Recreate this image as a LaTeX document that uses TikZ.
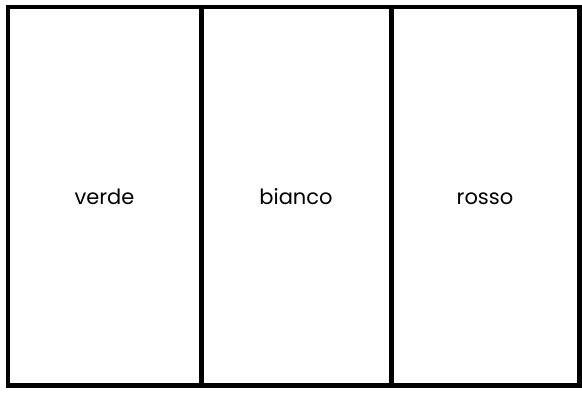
\documentclass[tikz,border=0pt]{standalone}
\usepackage{fontspec}
\setmainfont{Poppins}
\begin{document}
\begin{tikzpicture}[x=1pt,y=-1pt,
  panel/.style={minimum height=378pt,inner sep=0pt,anchor=north west},
  frame/.style={draw=black,line width=4.5pt},
  lbl/.style={font=\fontsize{21}{24}\selectfont,text=black,anchor=base}]
\useasboundingbox (0,0) rectangle (582,392);
\fill[white] (0,0) rectangle (582,392);
\node[panel,minimum width=193pt] (g) at (8,7) {};
\node[panel,minimum width=190pt] (w) at (201,7) {};
\node[panel,minimum width=188pt] (r) at (391,7) {};
\draw[frame] (g.north west) rectangle (r.south east);
\draw[frame] (g.north east) -- (g.south east);
\draw[frame] (w.north east) -- (w.south east);
\node[lbl] (tg) at (104.5,204) {verde};
\node[lbl] (tw) at (296,204) {bianco};
\node[lbl] (tr) at (485,204) {rosso};
\end{tikzpicture}
\end{document}
